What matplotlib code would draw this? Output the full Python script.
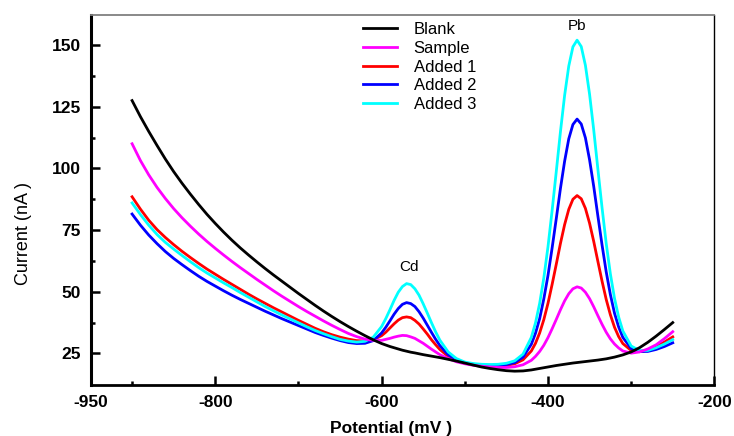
import numpy as np
import matplotlib
matplotlib.use("Agg")
import matplotlib.pyplot as plt

plt.rcParams['font.family'] = ['Liberation Sans', 'DejaVu Sans']
plt.rcParams['axes.unicode_minus'] = False

# Potential (mV)
potential = [-900, -890, -880, -870, -860, -850, -840, -830, -820, -810,
             -800, -790, -780, -770, -760, -750, -740, -730, -720, -710,
             -700, -690, -680, -670, -660, -650, -640, -630, -620, -610,
             -600, -595, -590, -585, -580, -575, -570, -565, -560, -555,
             -550, -545, -540, -535, -530,
             -520, -510, -500, -490, -480, -470, -460, -450, -440, -430,
             -420, -415, -410, -405, -400, -395, -390, -385, -380, -375,
             -370, -365, -360, -355, -350, -345, -340, -335, -330, -325,
             -320, -315, -310,
             -300, -290, -280, -270, -260, -250]

# Current (nA)
blank = [127.5, 121, 115, 109.3, 103.8, 98.7, 94, 89.6, 85.4, 81.4,
         77.7, 74.2, 70.9, 67.8, 64.9, 62.1, 59.4, 56.8, 54.3, 51.8,
         49.3, 46.9, 44.5, 42.2, 40, 37.9, 35.9, 34, 32.2, 30.5,
         29, 28.4, 27.8, 27.3, 26.8, 26.3, 25.9, 25.5, 25.2, 24.85,
         24.5, 24.2, 23.9, 23.6, 23.3,
         22.6, 21.9, 21.1, 20.3, 19.5, 18.9, 18.4, 18, 17.8, 17.9,
         18.3, 18.6, 18.9, 19.2, 19.5, 19.8, 20.1, 20.35, 20.6, 20.85,
         21.1, 21.3, 21.5, 21.7, 21.9, 22.1, 22.3, 22.55, 22.8, 23.15,
         23.5, 23.95, 24.4,
         25.6, 27.3, 29.5, 32, 34.7, 37.5]

sample = [110, 103.2, 97.4, 92.3, 87.8, 83.7, 80, 76.6, 73.4, 70.4,
          67.6, 64.9, 62.3, 59.8, 57.4, 55, 52.7, 50.4, 48.2, 46.1,
          44, 42, 40.1, 38.2, 36.4, 34.7, 33.1, 31.8, 30.8, 30.3,
          30.3, 30.7, 31.1, 31.6, 32, 32.3, 32.2, 31.7, 31.1, 30.1,
          29.1, 27.9, 26.7, 25.6, 24.5,
          22.9, 21.6, 20.8, 20.2, 19.8, 19.5, 19.3, 19.3, 19.6, 20.4,
          22.2, 23.8, 25.8, 28.3, 31.4, 35, 38.8, 42.7, 46.3, 49.2,
          51.2, 52, 51.5, 49.8, 47.2, 43.9, 40.3, 36.8, 33.6, 30.9,
          28.8, 27.2, 26,
          25.1, 25.6, 26.8, 28.5, 31, 33.8]

added1 = [88.5, 83.5, 79, 75.2, 72, 69.1, 66.4, 63.9, 61.5, 59.2,
          57.1, 55, 53, 51, 49, 47.1, 45.3, 43.5, 41.8, 40.1,
          38.4, 36.8, 35.2, 33.8, 32.6, 31.6, 30.8, 30.2, 30, 30.5,
          32.2, 33.6, 35.3, 37, 38.5, 39.5, 39.8, 39.5, 38.4, 36.9,
          34.9, 32.8, 30.5, 28.5, 26.6,
          23.8, 22, 21.1, 20.4, 20.1, 19.9, 19.9, 20.2, 20.8, 22.4,
          26, 29.1, 33.3, 38.7, 45.3, 53, 61.2, 69.6, 77.2, 83.4,
          87.5, 89, 87.7, 83.8, 77.8, 70.4, 62.3, 54.3, 46.9, 40.7,
          35.6, 31.8, 29,
          26.2, 25.7, 26.3, 27.8, 29.6, 31.7]

added2 = [81.5, 77, 73, 69.5, 66.3, 63.5, 61, 58.6, 56.3, 54.2,
          52.3, 50.4, 48.6, 46.9, 45.3, 43.7, 42.1, 40.6, 39.1, 37.7,
          36.3, 34.9, 33.5, 32.3, 31.2, 30.2, 29.4, 29, 29.1, 30.2,
          33.3, 35.6, 38.2, 40.9, 43.2, 44.9, 45.6, 45.2, 44, 41.9,
          39.3, 36.4, 33.5, 30.7, 28.2,
          24.5, 22.3, 21.2, 20.6, 20.3, 20.2, 20.1, 20.5, 21.3, 23.5,
          28.7, 33.2, 39.1, 47.1, 56.6, 67.8, 79.7, 91.9, 102.9, 112,
          117.8, 120, 118, 112.4, 103.5, 92.7, 80.7, 69, 58.1, 48.9,
          41.3, 35.7, 31.5,
          27, 25.8, 25.8, 26.6, 27.8, 29.3]

added3 = [86, 81.3, 77, 73.2, 70, 67.3, 64.7, 62.2, 59.8, 57.6,
          55.6, 53.6, 51.7, 49.7, 47.8, 45.9, 44, 42.3, 40.6, 39,
          37.4, 35.8, 34.3, 33, 31.8, 30.7, 30, 29.6, 29.9, 31.6,
          35.9, 39.1, 42.7, 46.5, 49.8, 52.1, 53.3, 52.9, 51.2, 48.6,
          45.1, 41.3, 37.4, 33.7, 30.4,
          25.6, 22.9, 21.5, 20.9, 20.6, 20.5, 20.6, 21, 22, 24.7,
          31.5, 37.4, 45.3, 55.6, 68.2, 83, 98.8, 114.9, 129.6, 141.5,
          149.3, 152, 149.4, 141.8, 130.1, 115.6, 99.7, 84.1, 69.6, 57.3,
          47.3, 39.7, 34.1,
          28, 26.2, 26.2, 27.3, 28.8, 30.6]

fig = plt.figure(figsize=(7.34, 4.36), dpi=100)
ax = fig.add_axes([0.1233, 0.117, 0.8499, 0.8486])

lw = 2.0
l1, = ax.plot(potential, added1, color='#ff0000', lw=lw, label='Added 1')
l2, = ax.plot(potential, added2, color='#0000ff', lw=lw, label='Added 2')
l3, = ax.plot(potential, added3, color='#00ffff', lw=lw, label='Added 3')
ls, = ax.plot(potential, sample, color='#ff00ff', lw=lw, label='Sample')
lb, = ax.plot(potential, blank, color='#000000', lw=lw, label='Blank')

ax.text(-567, 57, 'Cd', ha='center', va='bottom', fontsize=11)
ax.text(-365, 155, 'Pb', ha='center', va='bottom', fontsize=11)

ax.set_xlim(-950, -200)
ax.set_ylim(12.2, 162.2)
ax.set_xticks([-950, -800, -600, -400, -200])
ax.set_xticks([-900, -700, -500, -300], minor=True)
ax.set_yticks([25, 50, 75, 100, 125, 150])
ax.set_yticks([37.5, 62.5, 87.5, 112.5, 137.5], minor=True)
ax.tick_params(which='both', direction='in', width=1.8)
ax.tick_params(which='major', length=6.5, labelsize=12.5, pad=7)
ax.tick_params(which='minor', length=3)
ax.tick_params(axis='y', which='both', right=False)
ax.tick_params(axis='x', which='both', top=False)
for lab in ax.get_xticklabels() + ax.get_yticklabels():
    lab.set_fontweight('bold')

ax.spines['left'].set_linewidth(2.2)
ax.spines['bottom'].set_linewidth(2.0)
ax.spines['right'].set_linewidth(1.0)
ax.spines['top'].set_linewidth(1.3)
ax.spines['top'].set_color('#808080')

ax.set_xlabel('Potential (mV )', fontsize=12.5, fontweight='bold')
ax.set_ylabel('Current (nA )', fontsize=13)
ax.xaxis.set_label_coords(0.482, -0.097)
ax.yaxis.set_label_coords(-0.093, 0.41)

leg = ax.legend(handles=[lb, ls, l1, l2, l3], loc='upper left',
                bbox_to_anchor=(0.418, 1.012), frameon=False, fontsize=12,
                handlelength=2.05, handletextpad=1.0, labelspacing=0.22,
                borderaxespad=0.3)

fig.savefig('out.png', dpi=100)
